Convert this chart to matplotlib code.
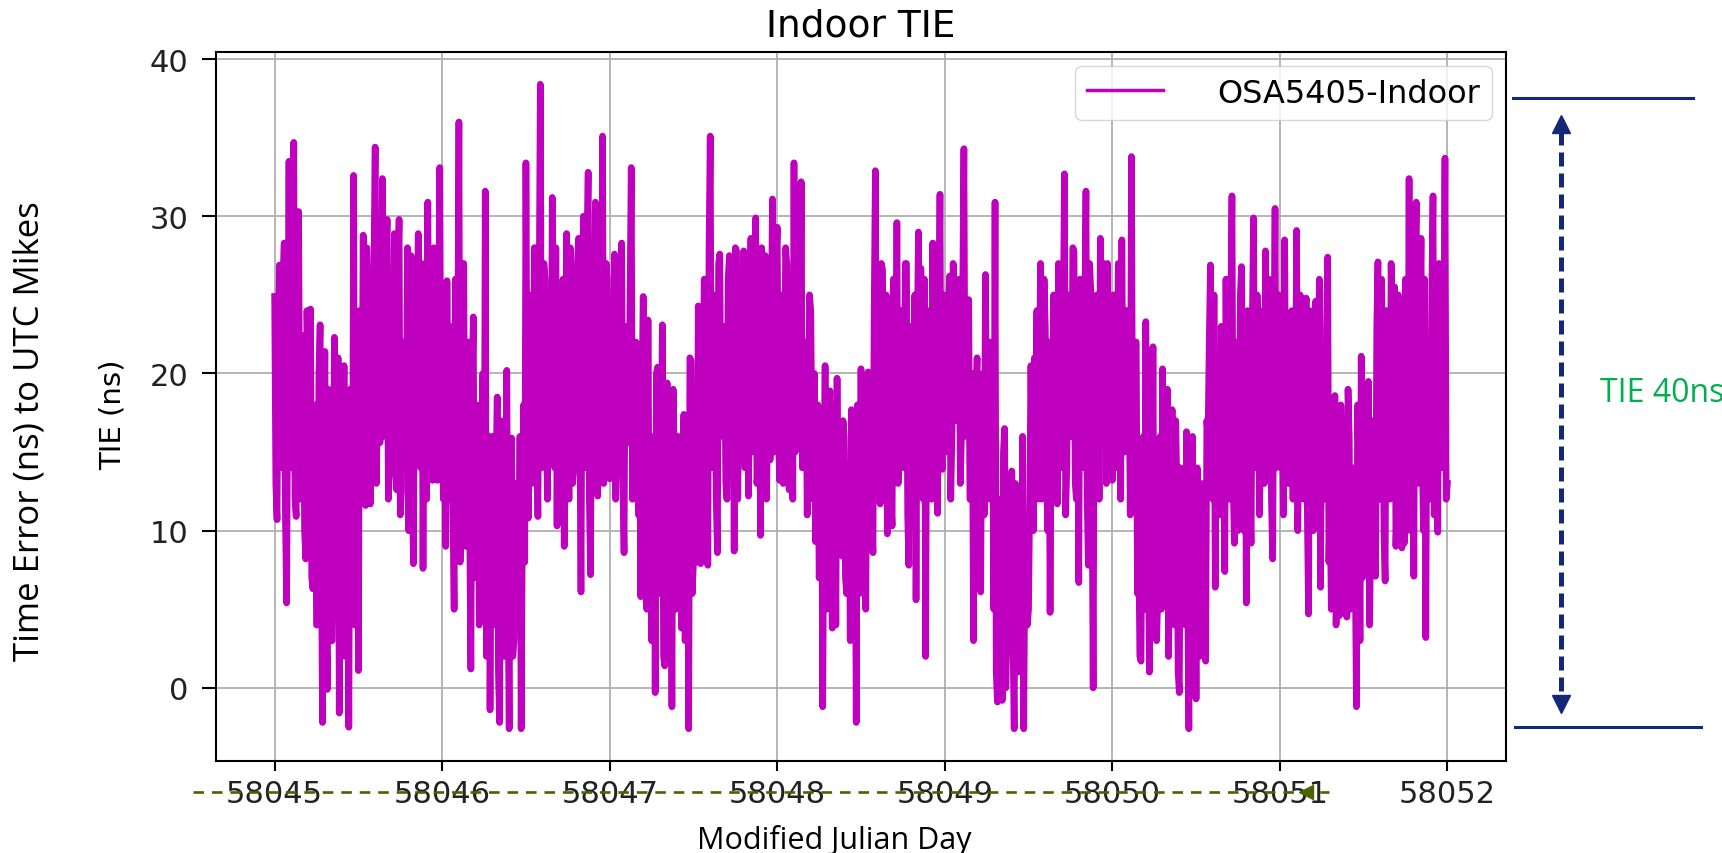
import numpy as np
import matplotlib
matplotlib.use('Agg')
import matplotlib.pyplot as plt
from matplotlib.lines import Line2D
from matplotlib.transforms import Affine2D

# TIE samples (ns), one list per MJD day (spike tops/bottoms)
day_58045 = [24.9, 10.7, 26.9, 14, 28.3, 5.4, 33.5, 18, 34.7, 10.9,
             30.3, 12, 22.4, 8.2, 20, 24.1, 6.3, 18, 4, 23.1,
             -2.2, 21.4, -0.1, 14, 3, 22.3, 8, -1.6, 12, 20.5,
             5, -2.5, 16, 32.6, 8, 1.1, 22, 28.8, 11.6, 24,
             11.7, 20, 34.4, 18, 15.6, 32.4, 19, 29.8, 14, 24,
             28.9, 12.6, 29.8, 12.5, 22, 16, 10.0, 27.5, 7.9, 20,
             28.9, 14, 7.6, 22, 30.9, 16, 13.2, 24, 13.2, 33.1]
day_58046 = [18, 22, 25.9, 12, 20, 5.0, 11.7, 36.0, 14, 27,
             9, 22, 1.2, 23.6, 8, 18, 5.8, 20, 31.6, 6,
             -1.4, 16, 4, 18.5, -2.2, 12, 2, 20.2, -2.6, 15.9,
             3, 12, 6, -2.6, 18, 33.4, 10.8, 24, 14, 28,
             10.9, 38.4, 16, 26, 12, 22, 31.2, 14, 10.3, 24,
             18, 9.0, 28.9, 12, 24, 14, 20, 28.6, 6.1, 30,
             14, 32.8, 7.2, 22, 30.9, 12.2, 24, 35.1, 15.2, 26]
day_58047 = [13.3, 22, 27.6, 16, 24, 28.3, 8.6, 20, 15.6, 33.1,
             16, 22, 11, 5.8, 24.9, 12, 23.4, 13.3, 8, -0.3,
             20.4, 6, 23.1, 1.4, 19.4, 8, -1.2, 14.8, 6, 12,
             3.8, 17.4, 6, -2.6, 20.8, 8, 16, 24.3, 7.9, 20,
             12, 7.8, 35.1, 14, 24, 8.6, 27.6, 16, 22, 12,
             27.5, 16, 8.7, 27.8, 18, 24, 27.8, 14, 12.2, 28.6,
             18, 29.9, 14, 9.7, 24, 27.5, 17, 14.5, 31.1, 18]
day_58048 = [29.3, 13.2, 22, 18, 27.0, 12.6, 24, 33.4, 18, 26,
             32.2, 14.4, 22, 16, 24.0, 12, 9.3, 18, 8, -1.2,
             20.5, 6, 18.9, 3.8, 14, 19.7, 10, 8.4, 16, 6,
             14, 17.7, 4, -2.2, 14, 20.3, 8, 5.0, 20.1, 12,
             8.6, 32.9, 16, 11.7, 26.6, 18, 9.8, 22, 10.3, 20.0,
             29.6, 15.1, 24, 14, 27.0, 7.8, 22, 14, 5.6, 29.0,
             26.7, 12, 2.0, 18, 22, 28.3, 16, 11.1, 31.4, 13.9]
day_58049 = [24, 18, 26.2, 16.1, 24, 18, 26, 16.2, 34.3, 18,
             24.7, 12, 3.0, 18, 10, 6.1, 20, 26.3, 12, 22,
             16, 30.9, -0.9, 12, -0.8, 16.5, 4, 10, 13.8, -2.6,
             8, 12.8, 2, -2.6, 10, 5.0, 20.5, 10, 18, 12,
             27.0, 14, 23, 10, 4.8, 18, 14, 11.7, 22, 16,
             32.7, 14.1, 24, 16, 27.8, 12, 6.7, 20, 14, 31.6,
             7.8, 25.4, 0.0, 16, 20, 28.6, 16, 24, 27, 18]
day_58050 = [13.2, 24, 18, 22, 28.5, 15, 24, 20, 33.8, 17.0,
             22, 10, 1.7, 16, 23.3, 10, 18, 21.7, 10, 5.8,
             16, 20.3, 8, 19.0, 7.9, 17.7, 4, 12.8, -0.3, 8,
             12, 16.3, -2.6, 8, 4, -0.7, 10, 4, 12.8, 1.7,
             16, 26.9, 12, 6.4, 18, 14, 21.4, 7.4, 16, 12,
             31.3, 9.2, 20, 14, 26.8, 10, 5.4, 18, 9.2, 29.9,
             14, 22, 16, 24, 27.8, 14, 20, 8.2, 30.5, 16.1]
day_58051 = [24, 18, 28.5, 20, 15.5, 24, 20, 29.1, 16, 22,
             12, 24.8, 4.7, 18, 10, 24.6, 12, 6.4, 18, 14,
             27.4, 12, 16, 18.6, 8, 4.6, 14, 10, 4.5, 16.0,
             8, 12, -1.2, 14, 21.1, 10, 14, 19.5, 10, 16,
             7.1, 27.1, 12, 20, 6.8, 16, 12, 22, 25.5, 12,
             18, 8.9, 9.2, 24, 32.4, 14, 7.1, 30.9, 16, 28.6,
             10, 3.2, 20, 14, 31.3, 16, 9.9, 22, 16, 33.7,
             13.0]

# in-between samples from the dense band, one after each sample above
band_58045 = [13, 22, 15, 26, 11, 20, 14, 27, 12, 23,
              16, 21, 10, 24, 13, 7, 17, 4, 20, 9,
              15, 6, 19, 3, 13, 8, 21, 16, 6, 2,
              14, 19, 8, 4, 22, 24, 17, 12, 28, 15,
              23, 27, 13, 25, 21, 16, 27, 12, 24, 18,
              14, 26, 11, 22, 16, 28, 24, 13, 25, 21,
              15, 27, 23, 12, 17, 25, 28, 14, 22, 16]
band_58046 = [12, 9, 14, 23, 11, 26, 21, 8, 24, 13,
              22, 10, 19, 7, 17, 4, 13, 6, 2, 16,
              11, 5, 14, 1, 17, 4, 12, 6, 15, 2,
              13, 5, 16, 10, 8, 17, 25, 13, 28, 18,
              24, 14, 27, 17, 23, 15, 19, 28, 25, 12,
              26, 22, 16, 28, 13, 24, 27, 17, 23, 15,
              28, 12, 25, 18, 14, 26, 16, 13, 27, 19]
band_58047 = [24, 15, 12, 27, 16, 13, 23, 17, 25, 12,
              21, 15, 17, 19, 8, 5, 10, 3, 16, 20,
              6, 15, 2, 18, 7, 13, 19, 5, 16, 9,
              14, 3, 17, 21, 6, 12, 8, 11, 24, 26,
              22, 28, 15, 25, 12, 27, 17, 23, 13, 26,
              16, 24, 28, 12, 25, 18, 14, 27, 22, 15,
              26, 13, 24, 28, 16, 12, 25, 23, 15, 27]
band_58048 = [16, 25, 13, 28, 17, 24, 12, 15, 26, 18,
              14, 22, 11, 25, 16, 20, 14, 7, 17, 12,
              5, 15, 8, 18, 4, 9, 13, 17, 7, 14,
              3, 10, 15, 18, 6, 8, 14, 17, 9, 11,
              24, 13, 22, 27, 16, 25, 21, 12, 26, 15,
              13, 24, 17, 27, 11, 23, 15, 25, 22, 13,
              16, 26, 21, 24, 12, 17, 27, 23, 15, 25]
band_58049 = [15, 24, 12, 27, 17, 22, 13, 25, 16, 23,
              12, 20, 17, 21, 15, 19, 11, 16, 22, 13,
              5, 1, 12, 4, 15, 0, 11, 6, 3, 13,
              1, 7, 16, 9, 4, 12, 14, 21, 24, 19,
              12, 26, 15, 22, 17, 25, 20, 27, 14, 23,
              11, 25, 16, 28, 13, 22, 26, 15, 24, 12,
              27, 14, 21, 25, 12, 16, 27, 13, 15, 23]
band_58050 = [25, 14, 27, 12, 16, 24, 15, 11, 14, 22,
              6, 2, 14, 5, 8, 1, 7, 4, 3, 13,
              5, 8, 16, 2, 13, 6, 17, 1, 14, 12,
              4, 6, 12, 16, 10, 14, 2, 13, 5, 17,
              22, 13, 25, 21, 11, 23, 14, 26, 20, 24,
              13, 22, 10, 25, 15, 21, 24, 12, 23, 14,
              25, 11, 22, 13, 15, 26, 12, 21, 14, 25]
band_58051 = [14, 11, 16, 13, 23, 12, 15, 10, 25, 14,
              22, 11, 24, 15, 21, 13, 26, 20, 12, 23,
              8, 5, 9, 4, 16, 18, 7, 15, 19, 5,
              14, 8, 18, 3, 7, 16, 9, 4, 17, 8,
              23, 12, 26, 10, 24, 21, 27, 13, 9, 25,
              14, 22, 26, 12, 10, 24, 27, 13, 23, 15,
              26, 22, 12, 25, 11, 24, 27, 14, 21, 12]

x_ticks = [58045, 58046, 58047, 58048, 58049, 58050, 58051, 58052]
y_ticks = [0, 10, 20, 30, 40]

days = [day_58045, day_58046, day_58047, day_58048, day_58049, day_58050, day_58051]
bands = [band_58045, band_58046, band_58047, band_58048, band_58049, band_58050, band_58051]
tie_ns = []
for d, b in zip(days, bands):
    for v, w in zip(d, b):
        tie_ns += [v, w]
tie_ns.append(day_58051[-1])
mjd = np.linspace(x_ticks[0], x_ticks[-1], len(tie_ns))

W, H = 1722, 854
fig = plt.figure(figsize=(W / 100, H / 100), dpi=100)
# pixel coords (origin top-left) for the slide overlay
px = Affine2D().scale(1 / W, -1 / H).translate(0, 1) + fig.transFigure

left, right, top, bottom = 216, 1506, 53, 762
ax = fig.add_axes([left / W, 1 - bottom / H, (right - left) / W, (bottom - top) / H])
ax.plot(mjd, tie_ns, color='m', lw=4.8, label='OSA5405-Indoor')
ax.grid(True, color='#b0b0b0', lw=1.3)
ax.set_xticks(x_ticks)
ax.set_xticklabels([str(t) for t in x_ticks])
ax.set_yticks(y_ticks)
ax.tick_params(labelsize=22, width=1.5, labelcolor='#222222')
ax.tick_params(axis='y', length=10, pad=10)
ax.tick_params(axis='x', length=7, pad=6)
for s in ax.spines.values():
    s.set_linewidth(1.5)
ax.set_title('Indoor TIE', fontsize=27, pad=12)
ax.set_ylabel('TIE (ns)', fontsize=21)
ax.yaxis.set_label_coords(-0.069, 0.49)
leg = ax.legend(loc='upper right', fontsize=23, handlelength=2.4, handletextpad=1.7,
                borderaxespad=0.45, borderpad=0.35)
for h in leg.get_lines():
    h.set_linewidth(2.5)

# slide labels
ofont = 'Open Sans'
fig.text(30, 431, 'Time Error (ns) to UTC Mikes', transform=px, rotation=90,
         ha='center', va='center', fontsize=25, family=ofont)
fig.text(834, 849, 'Modified Julian Day', transform=px, ha='center', va='baseline',
         fontsize=22, family=ofont)
fig.text(1600, 402, 'TIE 40ns', transform=px, ha='left', va='baseline',
         fontsize=23, family=ofont, color='#00b050')

navy = '#142878'
fig.add_artist(Line2D([1513, 1693], [99, 99], transform=px, color=navy, lw=2.2))
fig.add_artist(Line2D([1515, 1701], [728, 728], transform=px, color=navy, lw=2.2))
fig.add_artist(Line2D([1561, 1561], [132, 698], transform=px, color=navy, lw=3.6,
                      dashes=(2.8, 1.4)))
fig.add_artist(Line2D([1561], [125], transform=px, color=navy, marker='^',
                      markersize=13, lw=0))
fig.add_artist(Line2D([1561], [705], transform=px, color=navy, marker='v',
                      markersize=13, lw=0))

olive = '#4b6300'
fig.add_artist(Line2D([193, 1329], [793, 793], transform=px, color=olive, lw=1.9,
                      dashes=(4, 3)))
fig.add_artist(Line2D([1306], [793], transform=px, color=olive, marker='<',
                      markersize=10, lw=0))

fig.savefig('out.png', dpi=100)
